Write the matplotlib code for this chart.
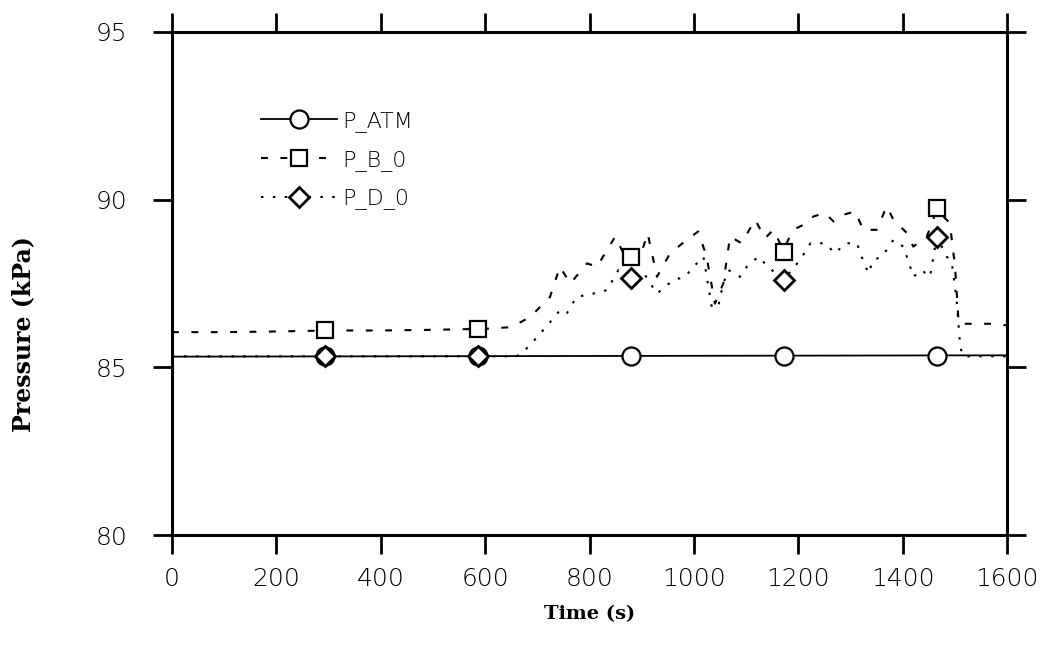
import matplotlib
matplotlib.use("Agg")
import matplotlib.pyplot as plt

# P_ATM (solid)
t_atm = [0, 400, 800, 1200, 1600]
p_atm = [85.32, 85.33, 85.34, 85.35, 85.36]

# P_B_0 (dashed)
t_b = [0, 100, 200, 300, 400, 500, 600, 650, 686, 705, 724, 743, 763, 795, 814,
       849, 871, 897, 911, 929, 954, 986, 1008, 1024, 1040, 1056, 1069, 1091,
       1117, 1136, 1152, 1171, 1190, 1216, 1229, 1251, 1267, 1286, 1309, 1324,
       1350, 1369, 1382, 1408, 1420, 1446, 1465, 1490, 1500, 1507, 1535, 1574, 1600]
p_b = [86.05, 86.05, 86.07, 86.1, 86.1, 86.12, 86.15, 86.2, 86.5, 86.8, 87.1, 88.0,
       87.5, 88.1, 88.0, 88.9, 88.2, 88.3, 89.0, 87.7, 88.4, 88.8, 89.05, 88.3,
       86.9, 87.5, 88.9, 88.7, 89.4, 88.85, 89.1, 88.5, 89.1, 89.3, 89.5, 89.6,
       89.35, 89.55, 89.65, 89.1, 89.1, 89.8, 89.4, 89.0, 88.6, 88.9, 89.7, 89.3,
       88.0, 86.3, 86.3, 86.3, 86.25]

# P_D_0 (dotted)
t_d = [0, 300, 600, 660, 682, 705, 727, 743, 756, 775, 807, 833, 855, 875, 904,
       929, 960, 983, 999, 1018, 1034, 1046, 1056, 1066, 1088, 1101, 1123, 1142,
       1171, 1203, 1223, 1251, 1270, 1290, 1312, 1321, 1334, 1343, 1360, 1382,
       1401, 1414, 1420, 1436, 1452, 1465, 1484, 1494, 1503, 1510, 1516, 1600]
p_d = [85.33, 85.33, 85.33, 85.33, 85.6, 86.0, 86.4, 86.7, 86.6, 87.1, 87.2, 87.3,
       87.9, 87.6, 87.8, 87.2, 87.6, 87.7, 88.0, 88.3, 86.8, 86.8, 87.5, 87.9,
       87.7, 88.0, 88.3, 88.0, 87.6, 88.2, 88.7, 88.7, 88.4, 88.7, 88.7, 88.3,
       87.8, 88.2, 88.3, 88.8, 88.6, 88.0, 87.7, 87.9, 87.7, 88.9, 88.3, 88.1,
       87.0, 85.6, 85.33, 85.33]

# marker positions
mark_t = [293, 586, 879, 1172, 1465]
atm_mark = [85.33, 85.33, 85.34, 85.35, 85.35]
b_mark = [86.1, 86.15, 88.3, 88.45, 89.75]
d_mark = [85.33, 85.33, 87.65, 87.6, 88.9]

x_ticks = [0, 200, 400, 600, 800, 1000, 1200, 1400, 1600]
y_ticks = [80, 85, 90, 95]

fig = plt.figure(figsize=(10.44, 6.51), dpi=100)
ax = fig.add_axes([0.1648, 0.178, 0.8, 0.773])

dash_b = (0, (3.3, 6.0))
dot_d = (0, (1.2, 4.5))

ax.plot(t_atm, p_atm, color="black", lw=1.3)
ax.plot(t_b, p_b, color="black", lw=1.5, linestyle=dash_b)
ax.plot(t_d, p_d, color="black", lw=1.5, linestyle=dot_d)

ax.plot(mark_t, atm_mark, linestyle="none", marker="o", ms=13,
        mfc="white", mec="black", mew=1.6)
ax.plot(mark_t, b_mark, linestyle="none", marker="s", ms=12,
        mfc="white", mec="black", mew=1.6)
ax.plot(mark_t, d_mark, linestyle="none", marker="D", ms=10,
        mfc="white", mec="black", mew=2.0)

# legend handles
h1, = ax.plot([], [], color="black", lw=1.3, marker="o", ms=13,
              mfc="white", mec="black", mew=1.6)
h2, = ax.plot([], [], color="black", lw=1.5, linestyle=dash_b, marker="s", ms=12,
              mfc="white", mec="black", mew=1.6)
h3, = ax.plot([], [], color="black", lw=1.5, linestyle=dot_d, marker="D", ms=10,
              mfc="white", mec="black", mew=2.0)
ax.legend([h1, h2, h3], ["P_ATM", "P_B_0", "P_D_0"], loc="upper left",
          bbox_to_anchor=(0.107, 0.843), frameon=False,
          handlelength=3.4, handletextpad=0.25, labelspacing=0.8,
          borderpad=0, borderaxespad=0, numpoints=1,
          prop={"family": "DejaVu Sans", "weight": "light", "size": 16})

ax.set_xlim(0, 1600)
ax.set_ylim(80, 95)
ax.set_xticks(x_ticks)
ax.set_yticks(y_ticks)

for s in ax.spines.values():
    s.set_linewidth(2.2)

ax.tick_params(axis="both", direction="out", length=14, width=2.0,
               top=True, right=True)
ax.tick_params(axis="x", pad=9)
ax.tick_params(axis="y", pad=18)
for lab in ax.get_xticklabels() + ax.get_yticklabels():
    lab.set_fontsize(18)
    lab.set_fontweight("light")

ax.set_xlabel("Time (s)", fontsize=14, family="DejaVu Serif", weight="bold",
              labelpad=10)
ax.set_ylabel("Pressure (kPa)", fontsize=17, family="DejaVu Serif", weight="bold")
ax.yaxis.set_label_coords(-0.164, 0.40)

fig.savefig("out.png", dpi=100)
